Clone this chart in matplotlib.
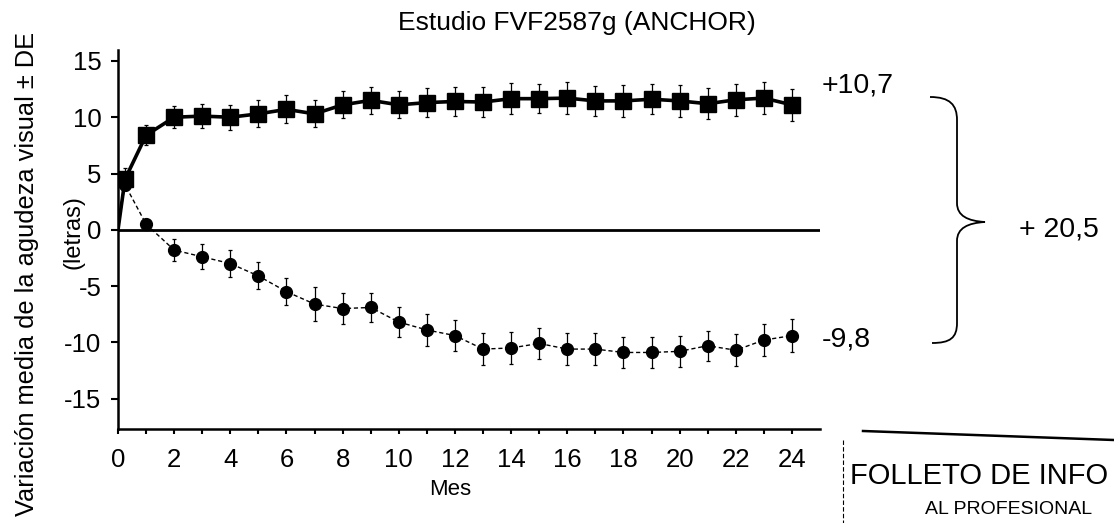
import matplotlib
matplotlib.use("Agg")
import matplotlib.pyplot as plt
from matplotlib.path import Path
from matplotlib.patches import PathPatch
from matplotlib.lines import Line2D

plt.rcParams['font.family'] = ['Liberation Sans', 'DejaVu Sans']
plt.rcParams['axes.unicode_minus'] = False

# ---- data ----
months = [0, 0.25, 1, 2, 3, 4, 5, 6, 7, 8, 9, 10, 11, 12, 13, 14, 15, 16, 17, 18, 19, 20, 21, 22, 23, 24]
ranibizumab = [0, 4.5, 8.4, 10.0, 10.1, 10.0, 10.3, 10.7, 10.3, 11.1, 11.5, 11.1, 11.3, 11.4,
               11.35, 11.65, 11.65, 11.7, 11.45, 11.45, 11.6, 11.45, 11.2, 11.55, 11.7, 11.1]
ranibizumab_sd = [0, 1.0, 0.9, 1.0, 1.1, 1.1, 1.2, 1.25, 1.2, 1.2, 1.2, 1.2, 1.3, 1.3,
                  1.3, 1.4, 1.3, 1.4, 1.35, 1.4, 1.35, 1.4, 1.4, 1.4, 1.45, 1.45]
control = [0, 4.0, 0.5, -1.8, -2.4, -3.0, -4.1, -5.5, -6.6, -7.0, -6.9, -8.2, -8.9, -9.4,
           -10.6, -10.5, -10.1, -10.6, -10.6, -10.9, -10.9, -10.8, -10.3, -10.7, -9.8, -9.4]
control_sd = [0, 0.5, 0.5, 0.96, 1.1, 1.2, 1.2, 1.2, 1.5, 1.35, 1.25, 1.35, 1.4, 1.35,
              1.4, 1.4, 1.4, 1.4, 1.4, 1.4, 1.4, 1.35, 1.35, 1.4, 1.4, 1.45]
xtick_labels = [str(v) for v in range(0, 25, 2)]
ytick_vals = [15, 10, 5, 0, -5, -10, -15]
final_top = "+10,7"
final_bottom = "-9,8"
difference = "+ 20,5"

W, H = 1114, 523
fig = plt.figure(figsize=(W / 100, H / 100), dpi=100)
fig.patch.set_facecolor('white')

def fx(px):
    return px / W

def fy(py):
    return 1 - py / H

ax = fig.add_axes([fx(118), fy(429), (820 - 118) / W, (429 - 49.7) / H])
ax.set_xlim(0, 25)
ax.set_ylim(-17.7, 16)

for s in ['top', 'right']:
    ax.spines[s].set_visible(False)
for s in ['left', 'bottom']:
    ax.spines[s].set_linewidth(1.8)

ax.axhline(0, color='black', lw=2.0, zorder=1)

# control (circles, dashed thin)
ax.errorbar(months[1:], control[1:], yerr=control_sd[1:], fmt='none', ecolor='black',
            elinewidth=0.9, capsize=1.5, capthick=0.9, zorder=2)
ax.plot(months, control, color='black', lw=1.0, ls=(0, (3, 2)), zorder=2)
ax.plot(months[1:], control[1:], 'o', color='black', ms=8.5, zorder=3)

# ranibizumab (squares, thick)
ax.errorbar(months[1:], ranibizumab[1:], yerr=ranibizumab_sd[1:], fmt='none', ecolor='black',
            elinewidth=0.9, capsize=1.5, capthick=0.9, zorder=4)
ax.plot(months, ranibizumab, color='black', lw=2.6, zorder=4)
ax.plot(months[1:], ranibizumab[1:], 's', color='black', ms=11, zorder=5)

ax.set_xticks(range(0, 25, 2))
ax.set_xticklabels(xtick_labels)
ax.set_xticks(range(0, 25), minor=True)
ax.set_yticks(ytick_vals)
ax.set_yticklabels([str(v) for v in ytick_vals])
ax.tick_params(axis='x', which='both', direction='out', length=3.5, width=1.5, pad=10, labelsize=18.5)
ax.tick_params(axis='y', which='major', direction='out', length=5, width=1.5, pad=7, labelsize=18.5)

ax.set_xlabel('Mes', fontsize=16)
ax.xaxis.set_label_coords((450 - 118) / (820 - 118), -(479 - 429) / (429 - 49.7))

# titles / labels
fig.text(fx(577), fy(23), 'Estudio FVF2587g (ANCHOR)', ha='center', va='center', fontsize=19)
fig.text(fx(27), fy(274), 'Variación media de la agudeza visual ± DE', rotation=90,
         ha='center', va='center', fontsize=18.3)
fig.text(fx(74), fy(232), '(letras)', rotation=90, ha='center', va='center', fontsize=17)

# right annotations
fig.text(fx(822), fy(86), final_top, ha='left', va='center', fontsize=20.5)
fig.text(fx(822), fy(340), final_bottom, ha='left', va='center', fontsize=20.5)
fig.text(fx(1019), fy(230), difference, ha='left', va='center', fontsize=20.5)

# curly brace
pts = [(930, 97), (950, 97), (957, 105), (957, 120),
       (957, 203),
       (957, 216), (968, 221), (985, 222),
       (968, 223), (957, 228), (957, 241),
       (957, 323),
       (957, 338), (950, 343), (932, 343)]
codes = [Path.MOVETO, Path.CURVE4, Path.CURVE4, Path.CURVE4,
         Path.LINETO,
         Path.CURVE4, Path.CURVE4, Path.CURVE4,
         Path.CURVE4, Path.CURVE4, Path.CURVE4,
         Path.LINETO,
         Path.CURVE4, Path.CURVE4, Path.CURVE4]
brace = Path([(fx(x), fy(y)) for x, y in pts], codes)
fig.patches.append(PathPatch(brace, transform=fig.transFigure, fill=False, lw=1.3,
                             edgecolor='black', figure=fig))

# scanned stamp fragment
fig.lines.append(Line2D([fx(863), fx(1114)], [fy(431), fy(440)], transform=fig.transFigure,
                        color='black', lw=1.8, figure=fig))
fig.lines.append(Line2D([fx(843), fx(843)], [fy(440), fy(523)], transform=fig.transFigure,
                        color='black', lw=0.8, ls=(0, (4, 2)), figure=fig))
fig.text(fx(850), fy(476), 'FOLLETO DE INFO', ha='left', va='center', fontsize=21)
fig.text(fx(925), fy(509), 'AL PROFESIONAL', ha='left', va='center', fontsize=14)

fig.savefig('out.png', dpi=100, facecolor='white')
